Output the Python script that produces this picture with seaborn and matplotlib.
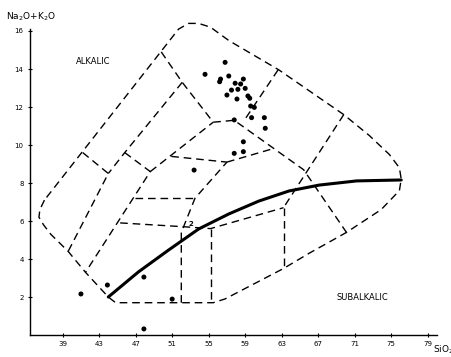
import matplotlib
matplotlib.use("Agg")
import matplotlib.pyplot as plt
import seaborn as sns
import pandas as pd

# sample analyses (SiO2 wt%, Na2O+K2O wt%)
sio2 = [56.8, 54.6, 57.2, 56.3, 56.2, 57.9, 58.8, 58.5, 59.0, 57.5,
        58.2, 57.0, 58.1, 59.3, 59.5, 59.6, 60.0, 57.8, 59.7, 61.1,
        61.2, 58.8, 58.8, 57.8, 53.4, 41.0, 43.9, 47.9, 51.0, 47.9]
alkali = [14.35, 13.72, 13.63, 13.47, 13.33, 13.25, 13.47, 13.21, 12.98, 12.89,
          12.93, 12.63, 12.42, 12.58, 12.46, 12.05, 11.98, 11.32, 11.44, 11.44,
          10.88, 10.17, 9.65, 9.56, 8.68, 2.16, 2.63, 3.05, 1.89, 0.32]

# alkalic / subalkalic divide
divide_si = [44.0, 47.3, 50.6, 53.9, 57.2, 60.5, 63.8, 67.1, 71.2, 76.1]
divide_alk = [2.0, 3.32, 4.47, 5.58, 6.37, 7.05, 7.58, 7.89, 8.11, 8.16]

# outer field boundary
outer_si = [37.0, 36.5, 36.4, 36.9, 37.7, 39.6, 41.5, 44.0, 44.8, 55.5, 56.8,
            63.2, 66.0, 70.1, 73.9, 75.9, 76.1, 75.9, 74.8, 72.6, 69.8, 62.7,
            57.2, 55.2, 53.9, 52.8, 51.7, 37.0]
outer_alk = [7.1, 6.6, 6.2, 5.8, 5.3, 4.4, 3.3, 2.0, 1.7, 1.7, 1.9,
             3.5, 4.3, 5.4, 6.6, 7.6, 8.2, 8.8, 9.5, 10.5, 11.6, 13.95,
             15.5, 16.2, 16.4, 16.4, 16.1, 7.1]

# internal field boundaries
ln_a = ([41.2, 44.0, 39.6], [9.6, 8.5, 4.4])
ln_b = ([49.8, 52.1, 55.5], [14.9, 13.3, 11.2])
ln_c = ([52.1, 45.8, 44.0], [13.3, 9.6, 8.5])
ln_d = ([45.8, 48.6, 41.5], [9.6, 8.6, 3.3])
ln_e = ([48.6, 55.5], [8.6, 11.2])
ln_f = ([50.9, 57.0], [9.4, 9.1])
ln_g = ([55.5, 57.8, 65.4, 70.1], [11.2, 11.3, 8.7, 5.4])
ln_h = ([62.6, 58.9], [13.95, 11.3])
ln_i = ([69.8, 63.2], [11.6, 6.7])
ln_j = ([57.0, 62.0], [9.1, 9.8])
ln_k = ([52.0, 52.0, 53.5, 57.0], [1.7, 5.4, 7.2, 9.1])
ln_l = ([46.9, 53.5], [7.2, 7.2])
ln_m = ([45.3, 52.2, 55.2, 63.2], [5.9, 5.7, 5.6, 6.7])
ln_n = ([55.2, 55.2], [5.6, 1.7])
ln_o = ([63.2, 63.2], [6.7, 3.5])
field_lines = [ln_a, ln_b, ln_c, ln_d, ln_e, ln_f, ln_g, ln_h,
               ln_i, ln_j, ln_k, ln_l, ln_m, ln_n, ln_o]

xticks = [39, 43, 47, 51, 55, 59, 63, 67, 71, 75, 79]
yticks = [2, 4, 6, 8, 10, 12, 14, 16]

sns.set_style("ticks", {"text.color": "black", "xtick.color": "black",
                        "ytick.color": "black", "axes.edgecolor": "black"})
plt.rcParams['font.family'] = ['DejaVu Sans']

fig = plt.figure(figsize=(4.52, 3.57), dpi=100)
ax = fig.add_axes([0.066, 0.0616, 0.9004, 0.8835])

dash = (0, (5.5, 3.5))
ax.plot(outer_si, outer_alk, color="black", lw=1.0, linestyle=dash, clip_on=False)
for xs, ys in field_lines:
    ax.plot(xs, ys, color="black", lw=1.0, linestyle=dash, clip_on=False)

div = pd.DataFrame({"SiO2": divide_si, "alk": divide_alk})
sns.lineplot(data=div, x="SiO2", y="alk", sort=False, estimator=None,
             color="black", lw=2.2, ax=ax)

pts = pd.DataFrame({"SiO2": sio2, "alk": alkali})
sns.scatterplot(data=pts, x="SiO2", y="alk", color="black", s=13,
                edgecolor="none", ax=ax, clip_on=False)
ax.text(53.1, 5.84, "2", fontsize=5, fontweight="bold", ha="center", va="center")

ax.text(40.4, 14.37, "ALKALIC", fontsize=6, ha="left", va="center", color="black")
ax.text(71.8, 1.95, "SUBALKALIC", fontsize=6, ha="center", va="center", color="black")

ax.set_xlim(35.4, 80)
ax.set_ylim(0, 16.6)
ax.set_xticks(xticks)
ax.set_yticks(yticks)
ax.tick_params(labelsize=5, length=3, width=0.8, direction="inout", pad=3,
               colors="black")
ax.set_xlabel("")
ax.set_ylabel("")
sns.despine(ax=ax)
ax.spines["left"].set_bounds(0, 16.1)
ax.spines["left"].set_linewidth(1.0)
ax.spines["bottom"].set_linewidth(1.0)

fig.text(30.5 / 452, 1 - 17 / 357, r"Na$_2$O+K$_2$O", fontsize=6.5,
         ha="center", va="center", color="black")
fig.text(443 / 452, 1 - 350 / 357, r"SiO$_2$", fontsize=6.5,
         ha="center", va="center", color="black")

fig.savefig("out.png", dpi=100)
